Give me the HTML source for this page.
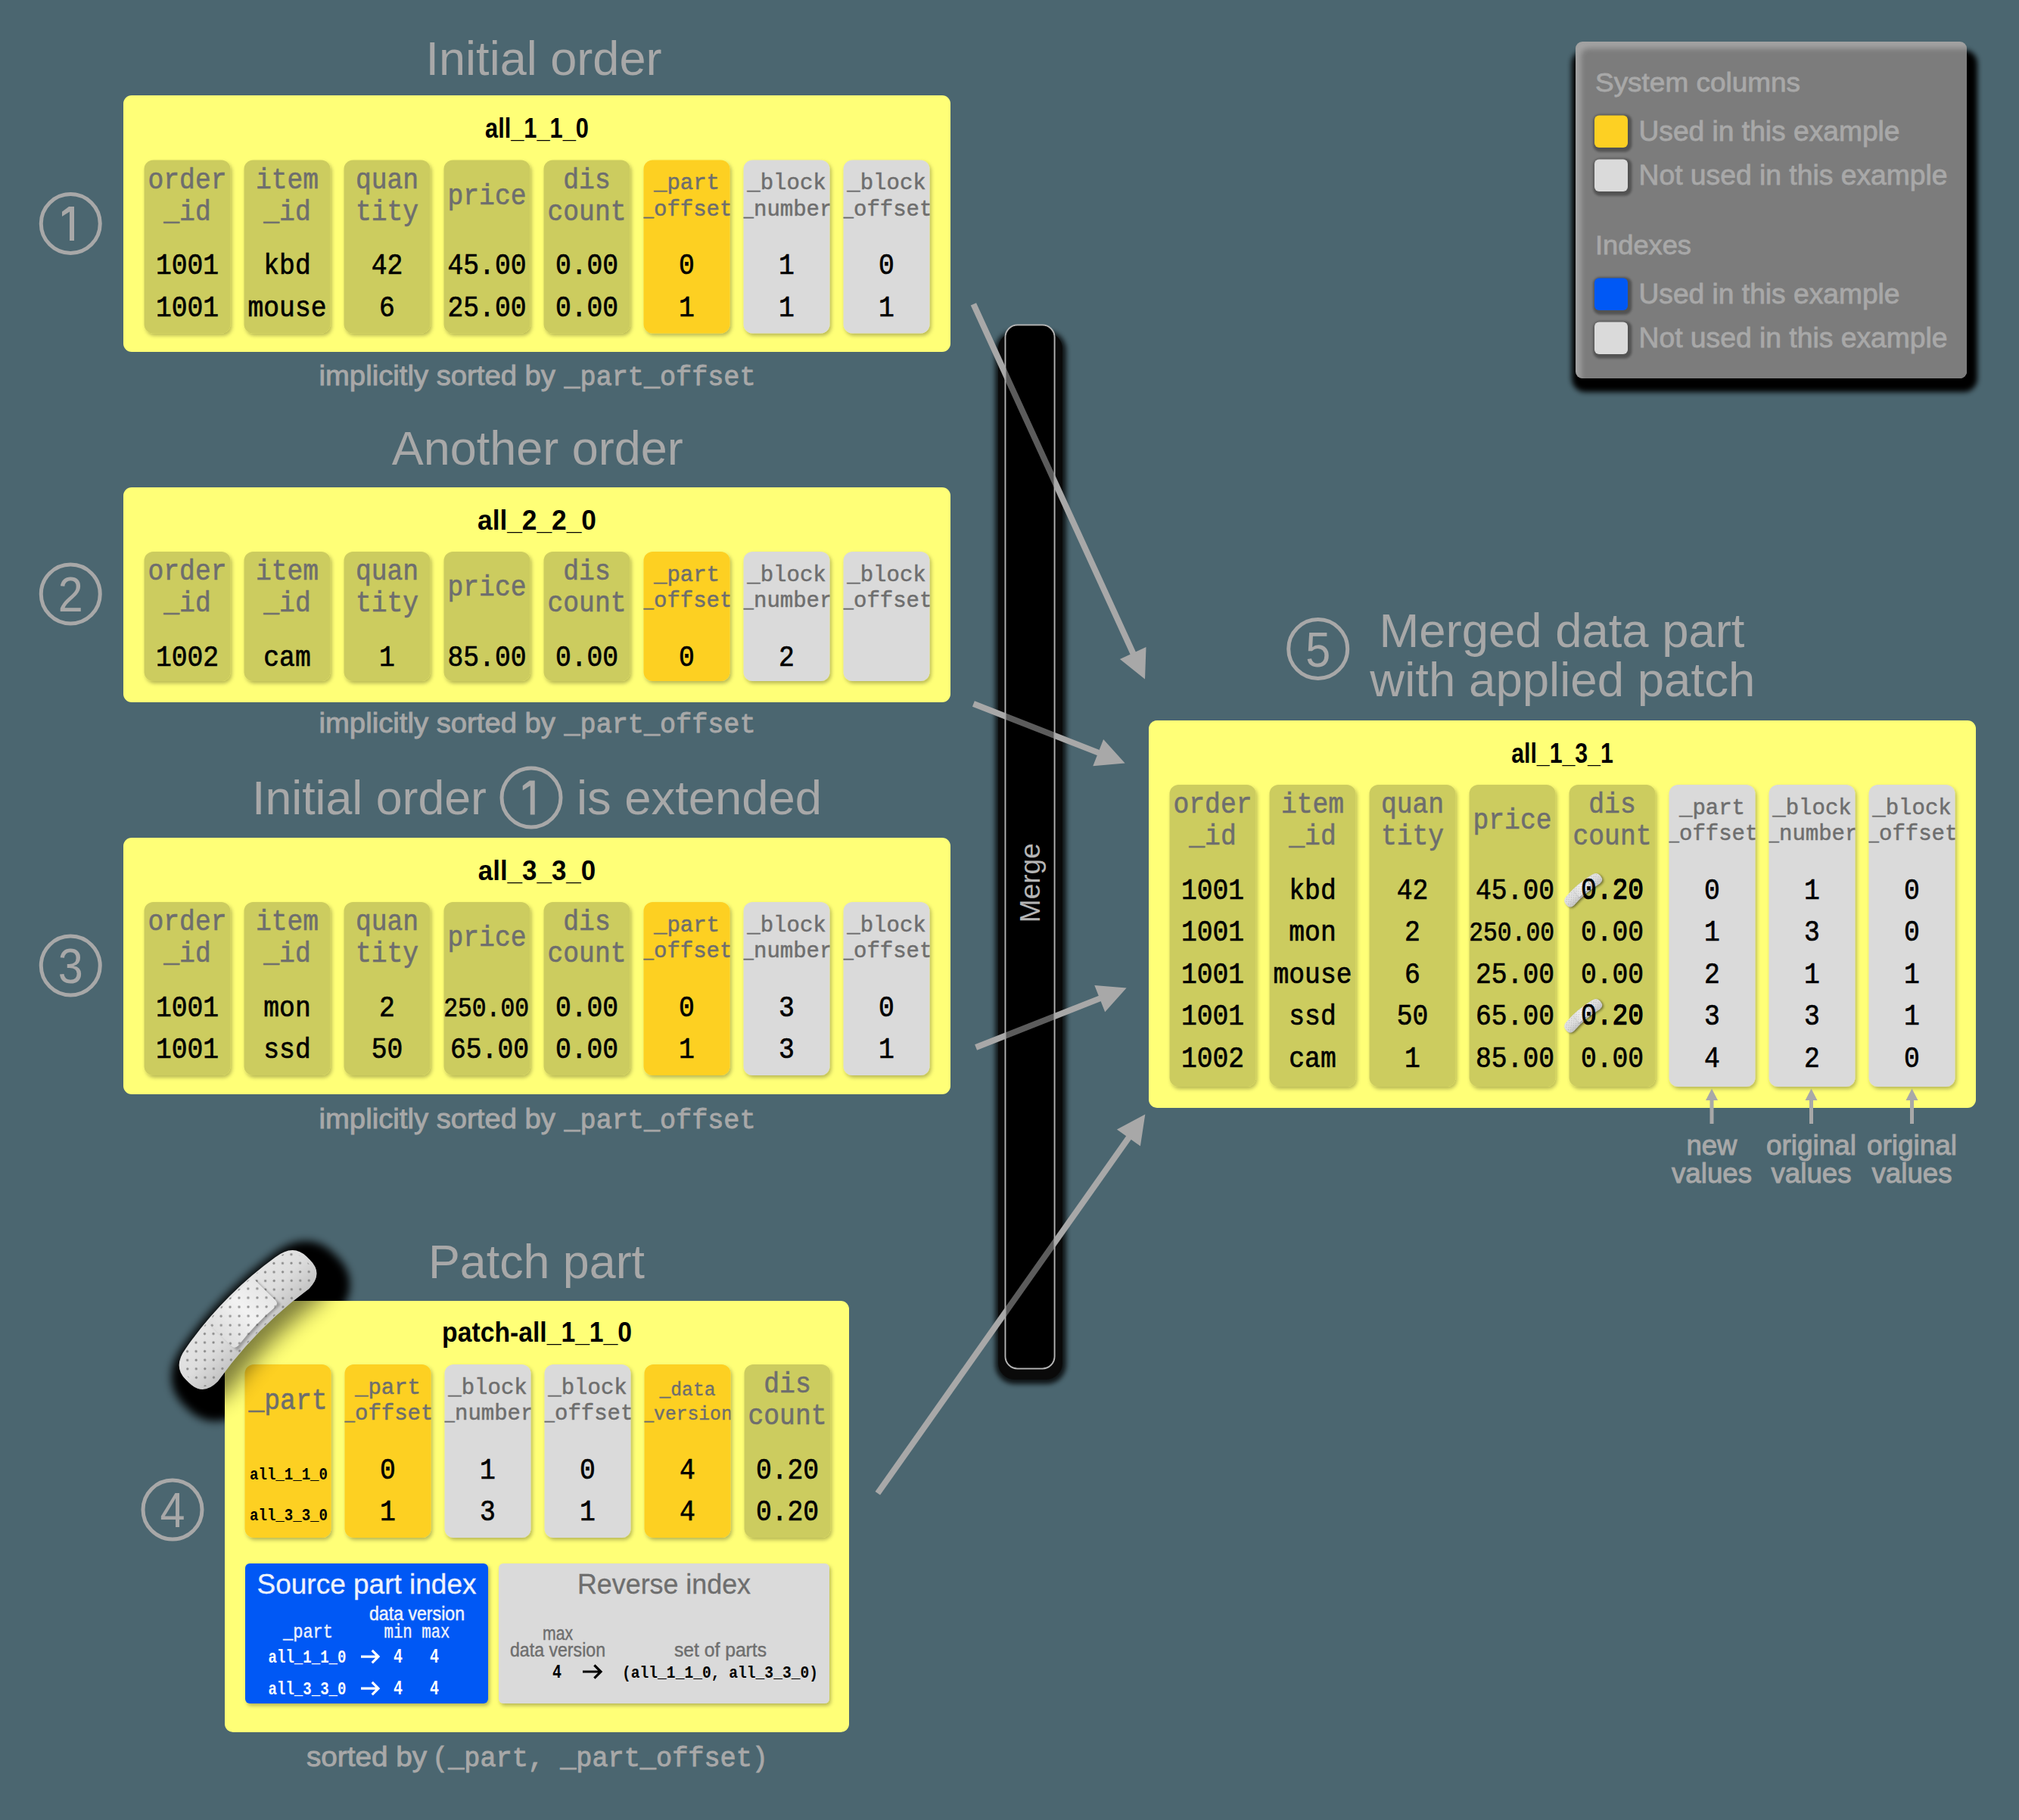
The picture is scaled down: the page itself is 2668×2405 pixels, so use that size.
<!DOCTYPE html><html><head><meta charset="utf-8"><style>
html,body{margin:0;padding:0;background:#4b6670;width:2668px;height:2405px}
svg{display:block}
</style></head><body>
<svg width="2668" height="2405" viewBox="0 0 2668 2405">
<defs>
<filter id="colsh" x="-20%" y="-20%" width="140%" height="140%"><feDropShadow dx="2" dy="3" stdDeviation="2.5" flood-color="#000" flood-opacity="0.28"/></filter>
<filter id="legsh" x="-20%" y="-20%" width="140%" height="140%"><feDropShadow dx="10" dy="13" stdDeviation="8" flood-color="#000" flood-opacity="1"/></filter>
<filter id="swsh" x="-40%" y="-40%" width="180%" height="180%"><feDropShadow dx="1" dy="2" stdDeviation="2.5" flood-color="#000" flood-opacity="0.55"/></filter>
<filter id="barsh" x="-50%" y="-10%" width="200%" height="120%"><feGaussianBlur stdDeviation="3"/></filter>
<filter id="bl9" x="-50%" y="-50%" width="200%" height="200%"><feGaussianBlur stdDeviation="9"/></filter>
<filter id="bl20" x="-80%" y="-80%" width="260%" height="260%"><feGaussianBlur stdDeviation="22"/></filter>
<filter id="bl4" x="-50%" y="-50%" width="200%" height="200%"><feGaussianBlur stdDeviation="4"/></filter>
<filter id="bl3" x="-50%" y="-50%" width="200%" height="200%"><feGaussianBlur stdDeviation="3.5"/></filter>
<filter id="bl6" filterUnits="userSpaceOnUse" x="-250" y="-200" width="500" height="400"><feGaussianBlur stdDeviation="6"/></filter>
<filter id="bl14" filterUnits="userSpaceOnUse" x="-250" y="-200" width="500" height="400"><feGaussianBlur stdDeviation="14"/></filter>
<filter id="bl2" x="-50%" y="-50%" width="200%" height="200%"><feGaussianBlur stdDeviation="1.5"/></filter>
<filter id="smsh" x="-50%" y="-50%" width="200%" height="200%"><feDropShadow dx="1.5" dy="2" stdDeviation="1.5" flood-color="#000" flood-opacity="0.45"/></filter>
<clipPath id="legclip"><rect x="2082" y="55" width="517" height="445" rx="9"/></clipPath>
<clipPath id="patchclip"><rect x="297" y="1719" width="825" height="570" rx="11"/></clipPath>
<linearGradient id="bandg" gradientUnits="userSpaceOnUse" x1="0" y1="-30" x2="0" y2="36">
<stop offset="0" stop-color="#e4e4e4"/><stop offset="0.5" stop-color="#dddddd"/><stop offset="1" stop-color="#c4c4c4"/></linearGradient>
<linearGradient id="padg" gradientUnits="userSpaceOnUse" x1="-40" y1="0" x2="44" y2="0">
<stop offset="0" stop-color="#dedede"/><stop offset="0.55" stop-color="#f2f2f2"/><stop offset="1" stop-color="#e6e6e6"/></linearGradient>
<pattern id="dots" x="0" y="0" width="17" height="17" patternUnits="userSpaceOnUse"><circle cx="4" cy="4" r="1.7" fill="#8a8a8a"/><circle cx="12.5" cy="12.5" r="1.7" fill="#8a8a8a"/></pattern>
<pattern id="dotsS" x="0" y="0" width="5" height="5" patternUnits="userSpaceOnUse"><circle cx="1.2" cy="1.2" r="0.7" fill="#9a9a9a"/><circle cx="3.7" cy="3.7" r="0.7" fill="#9a9a9a"/></pattern>
</defs>
<rect width="2668" height="2405" fill="#4b6670"/>

<text x="718.5" y="98.7" font-family="'Liberation Sans', sans-serif" font-size="63" fill="#a8a8a8" text-anchor="middle" font-weight="normal" textLength="312.0" lengthAdjust="spacingAndGlyphs"  xml:space="preserve">Initial order</text>
<text x="710.3" y="614" font-family="'Liberation Sans', sans-serif" font-size="63" fill="#a8a8a8" text-anchor="middle" font-weight="normal" textLength="385.0" lengthAdjust="spacingAndGlyphs"  xml:space="preserve">Another order</text>
<rect x="163" y="126" width="1093" height="339" rx="11" fill="#ffff77"/>
<text x="709.5" y="181.5" font-family="'Liberation Sans', sans-serif" font-size="37" fill="#000" text-anchor="middle" font-weight="bold" textLength="137.0" lengthAdjust="spacingAndGlyphs"  xml:space="preserve">all_1_1_0</text>
<rect x="190.5" y="211.5" width="114" height="229.0" rx="12" fill="#cccc5e" filter="url(#colsh)"/>
<clipPath id="cc1"><rect x="190.5" y="211.5" width="114" height="229.0" rx="12"/></clipPath><g clip-path="url(#cc1)">
<text x="247.5" y="248.5" font-family="'Liberation Mono', monospace" font-size="38" fill="#6e6e6e" text-anchor="middle" font-weight="normal" textLength="104.0" lengthAdjust="spacingAndGlyphs" stroke="#6e6e6e" stroke-width="0.6"  xml:space="preserve">order</text>
<text x="247.5" y="290.5" font-family="'Liberation Mono', monospace" font-size="38" fill="#6e6e6e" text-anchor="middle" font-weight="normal" textLength="62.4" lengthAdjust="spacingAndGlyphs" stroke="#6e6e6e" stroke-width="0.6"  xml:space="preserve">_id</text>
<text x="247.5" y="362.0" font-family="'Liberation Mono', monospace" font-size="39" fill="#000" text-anchor="middle" font-weight="normal" textLength="83.2" lengthAdjust="spacingAndGlyphs" stroke="#000" stroke-width="0.7"  xml:space="preserve">1001</text>
<text x="247.5" y="417.5" font-family="'Liberation Mono', monospace" font-size="39" fill="#000" text-anchor="middle" font-weight="normal" textLength="83.2" lengthAdjust="spacingAndGlyphs" stroke="#000" stroke-width="0.7"  xml:space="preserve">1001</text>
</g>
<rect x="322.5" y="211.5" width="114" height="229.0" rx="12" fill="#cccc5e" filter="url(#colsh)"/>
<clipPath id="cc2"><rect x="322.5" y="211.5" width="114" height="229.0" rx="12"/></clipPath><g clip-path="url(#cc2)">
<text x="379.5" y="248.5" font-family="'Liberation Mono', monospace" font-size="38" fill="#6e6e6e" text-anchor="middle" font-weight="normal" textLength="83.2" lengthAdjust="spacingAndGlyphs" stroke="#6e6e6e" stroke-width="0.6"  xml:space="preserve">item</text>
<text x="379.5" y="290.5" font-family="'Liberation Mono', monospace" font-size="38" fill="#6e6e6e" text-anchor="middle" font-weight="normal" textLength="62.4" lengthAdjust="spacingAndGlyphs" stroke="#6e6e6e" stroke-width="0.6"  xml:space="preserve">_id</text>
<text x="379.5" y="362.0" font-family="'Liberation Mono', monospace" font-size="39" fill="#000" text-anchor="middle" font-weight="normal" textLength="62.4" lengthAdjust="spacingAndGlyphs" stroke="#000" stroke-width="0.7"  xml:space="preserve">kbd</text>
<text x="379.5" y="417.5" font-family="'Liberation Mono', monospace" font-size="39" fill="#000" text-anchor="middle" font-weight="normal" textLength="104.0" lengthAdjust="spacingAndGlyphs" stroke="#000" stroke-width="0.7"  xml:space="preserve">mouse</text>
</g>
<rect x="454.5" y="211.5" width="114" height="229.0" rx="12" fill="#cccc5e" filter="url(#colsh)"/>
<clipPath id="cc3"><rect x="454.5" y="211.5" width="114" height="229.0" rx="12"/></clipPath><g clip-path="url(#cc3)">
<text x="511.5" y="248.5" font-family="'Liberation Mono', monospace" font-size="38" fill="#6e6e6e" text-anchor="middle" font-weight="normal" textLength="83.2" lengthAdjust="spacingAndGlyphs" stroke="#6e6e6e" stroke-width="0.6"  xml:space="preserve">quan</text>
<text x="511.5" y="290.5" font-family="'Liberation Mono', monospace" font-size="38" fill="#6e6e6e" text-anchor="middle" font-weight="normal" textLength="83.2" lengthAdjust="spacingAndGlyphs" stroke="#6e6e6e" stroke-width="0.6"  xml:space="preserve">tity</text>
<text x="511.5" y="362.0" font-family="'Liberation Mono', monospace" font-size="39" fill="#000" text-anchor="middle" font-weight="normal" textLength="41.6" lengthAdjust="spacingAndGlyphs" stroke="#000" stroke-width="0.7"  xml:space="preserve">42</text>
<text x="511.5" y="417.5" font-family="'Liberation Mono', monospace" font-size="39" fill="#000" text-anchor="middle" font-weight="normal" textLength="20.8" lengthAdjust="spacingAndGlyphs" stroke="#000" stroke-width="0.7"  xml:space="preserve">6</text>
</g>
<rect x="586.5" y="211.5" width="114" height="229.0" rx="12" fill="#cccc5e" filter="url(#colsh)"/>
<clipPath id="cc4"><rect x="586.5" y="211.5" width="114" height="229.0" rx="12"/></clipPath><g clip-path="url(#cc4)">
<text x="643.5" y="269.5" font-family="'Liberation Mono', monospace" font-size="38" fill="#6e6e6e" text-anchor="middle" font-weight="normal" textLength="104.0" lengthAdjust="spacingAndGlyphs" stroke="#6e6e6e" stroke-width="0.6"  xml:space="preserve">price</text>
<text x="643.5" y="362.0" font-family="'Liberation Mono', monospace" font-size="39" fill="#000" text-anchor="middle" font-weight="normal" textLength="104.0" lengthAdjust="spacingAndGlyphs" stroke="#000" stroke-width="0.7"  xml:space="preserve">45.00</text>
<text x="643.5" y="417.5" font-family="'Liberation Mono', monospace" font-size="39" fill="#000" text-anchor="middle" font-weight="normal" textLength="104.0" lengthAdjust="spacingAndGlyphs" stroke="#000" stroke-width="0.7"  xml:space="preserve">25.00</text>
</g>
<rect x="718.5" y="211.5" width="114" height="229.0" rx="12" fill="#cccc5e" filter="url(#colsh)"/>
<clipPath id="cc5"><rect x="718.5" y="211.5" width="114" height="229.0" rx="12"/></clipPath><g clip-path="url(#cc5)">
<text x="775.5" y="248.5" font-family="'Liberation Mono', monospace" font-size="38" fill="#6e6e6e" text-anchor="middle" font-weight="normal" textLength="62.4" lengthAdjust="spacingAndGlyphs" stroke="#6e6e6e" stroke-width="0.6"  xml:space="preserve">dis</text>
<text x="775.5" y="290.5" font-family="'Liberation Mono', monospace" font-size="38" fill="#6e6e6e" text-anchor="middle" font-weight="normal" textLength="104.0" lengthAdjust="spacingAndGlyphs" stroke="#6e6e6e" stroke-width="0.6"  xml:space="preserve">count</text>
<text x="775.5" y="362.0" font-family="'Liberation Mono', monospace" font-size="39" fill="#000" text-anchor="middle" font-weight="normal" textLength="83.2" lengthAdjust="spacingAndGlyphs" stroke="#000" stroke-width="0.7"  xml:space="preserve">0.00</text>
<text x="775.5" y="417.5" font-family="'Liberation Mono', monospace" font-size="39" fill="#000" text-anchor="middle" font-weight="normal" textLength="83.2" lengthAdjust="spacingAndGlyphs" stroke="#000" stroke-width="0.7"  xml:space="preserve">0.00</text>
</g>
<rect x="850.5" y="211.5" width="114" height="229.0" rx="12" fill="#fdd023" filter="url(#colsh)"/>
<clipPath id="cc6"><rect x="850.5" y="211.5" width="114" height="229.0" rx="12"/></clipPath><g clip-path="url(#cc6)">
<text x="907.5" y="250.0" font-family="'Liberation Mono', monospace" font-size="30" fill="#6e6e6e" text-anchor="middle" font-weight="normal" textLength="87.0" lengthAdjust="spacingAndGlyphs" stroke="#6e6e6e" stroke-width="0.5"  xml:space="preserve">_part</text>
<text x="907.5" y="284.5" font-family="'Liberation Mono', monospace" font-size="30" fill="#6e6e6e" text-anchor="middle" font-weight="normal" textLength="121.8" lengthAdjust="spacingAndGlyphs" stroke="#6e6e6e" stroke-width="0.5"  xml:space="preserve">_offset</text>
<text x="907.5" y="362.0" font-family="'Liberation Mono', monospace" font-size="39" fill="#000" text-anchor="middle" font-weight="normal" textLength="20.8" lengthAdjust="spacingAndGlyphs" stroke="#000" stroke-width="0.7"  xml:space="preserve">0</text>
<text x="907.5" y="417.5" font-family="'Liberation Mono', monospace" font-size="39" fill="#000" text-anchor="middle" font-weight="normal" textLength="20.8" lengthAdjust="spacingAndGlyphs" stroke="#000" stroke-width="0.7"  xml:space="preserve">1</text>
</g>
<rect x="982.5" y="211.5" width="114" height="229.0" rx="12" fill="#dadada" filter="url(#colsh)"/>
<clipPath id="cc7"><rect x="982.5" y="211.5" width="114" height="229.0" rx="12"/></clipPath><g clip-path="url(#cc7)">
<text x="1039.5" y="250.0" font-family="'Liberation Mono', monospace" font-size="30" fill="#6e6e6e" text-anchor="middle" font-weight="normal" textLength="104.4" lengthAdjust="spacingAndGlyphs" stroke="#6e6e6e" stroke-width="0.5"  xml:space="preserve">_block</text>
<text x="1039.5" y="284.5" font-family="'Liberation Mono', monospace" font-size="30" fill="#6e6e6e" text-anchor="middle" font-weight="normal" textLength="121.8" lengthAdjust="spacingAndGlyphs" stroke="#6e6e6e" stroke-width="0.5"  xml:space="preserve">_number</text>
<text x="1039.5" y="362.0" font-family="'Liberation Mono', monospace" font-size="39" fill="#000" text-anchor="middle" font-weight="normal" textLength="20.8" lengthAdjust="spacingAndGlyphs" stroke="#000" stroke-width="0.7"  xml:space="preserve">1</text>
<text x="1039.5" y="417.5" font-family="'Liberation Mono', monospace" font-size="39" fill="#000" text-anchor="middle" font-weight="normal" textLength="20.8" lengthAdjust="spacingAndGlyphs" stroke="#000" stroke-width="0.7"  xml:space="preserve">1</text>
</g>
<rect x="1114.5" y="211.5" width="114" height="229.0" rx="12" fill="#dadada" filter="url(#colsh)"/>
<clipPath id="cc8"><rect x="1114.5" y="211.5" width="114" height="229.0" rx="12"/></clipPath><g clip-path="url(#cc8)">
<text x="1171.5" y="250.0" font-family="'Liberation Mono', monospace" font-size="30" fill="#6e6e6e" text-anchor="middle" font-weight="normal" textLength="104.4" lengthAdjust="spacingAndGlyphs" stroke="#6e6e6e" stroke-width="0.5"  xml:space="preserve">_block</text>
<text x="1171.5" y="284.5" font-family="'Liberation Mono', monospace" font-size="30" fill="#6e6e6e" text-anchor="middle" font-weight="normal" textLength="121.8" lengthAdjust="spacingAndGlyphs" stroke="#6e6e6e" stroke-width="0.5"  xml:space="preserve">_offset</text>
<text x="1171.5" y="362.0" font-family="'Liberation Mono', monospace" font-size="39" fill="#000" text-anchor="middle" font-weight="normal" textLength="20.8" lengthAdjust="spacingAndGlyphs" stroke="#000" stroke-width="0.7"  xml:space="preserve">0</text>
<text x="1171.5" y="417.5" font-family="'Liberation Mono', monospace" font-size="39" fill="#000" text-anchor="middle" font-weight="normal" textLength="20.8" lengthAdjust="spacingAndGlyphs" stroke="#000" stroke-width="0.7"  xml:space="preserve">1</text>
</g>
<text x="421.5" y="508.6" font-family="'Liberation Sans', sans-serif" font-size="36" fill="#a8a8a8" text-anchor="start" font-weight="normal" textLength="312.5" lengthAdjust="spacingAndGlyphs" stroke="#a8a8a8" stroke-width="0.9"  xml:space="preserve">implicitly sorted by</text>
<text x="745.5" y="508.6" font-family="'Liberation Mono', monospace" font-size="36" fill="#a8a8a8" text-anchor="start" font-weight="normal" textLength="253.0" lengthAdjust="spacingAndGlyphs" stroke="#a8a8a8" stroke-width="0.9"  xml:space="preserve">_part_offset</text>
<rect x="163" y="644" width="1093" height="284" rx="11" fill="#ffff77"/>
<text x="709.5" y="700" font-family="'Liberation Sans', sans-serif" font-size="37" fill="#000" text-anchor="middle" font-weight="bold" textLength="157.0" lengthAdjust="spacingAndGlyphs"  xml:space="preserve">all_2_2_0</text>
<rect x="190.5" y="729" width="114" height="171" rx="12" fill="#cccc5e" filter="url(#colsh)"/>
<clipPath id="cc9"><rect x="190.5" y="729" width="114" height="171" rx="12"/></clipPath><g clip-path="url(#cc9)">
<text x="247.5" y="766" font-family="'Liberation Mono', monospace" font-size="38" fill="#6e6e6e" text-anchor="middle" font-weight="normal" textLength="104.0" lengthAdjust="spacingAndGlyphs" stroke="#6e6e6e" stroke-width="0.6"  xml:space="preserve">order</text>
<text x="247.5" y="808" font-family="'Liberation Mono', monospace" font-size="38" fill="#6e6e6e" text-anchor="middle" font-weight="normal" textLength="62.4" lengthAdjust="spacingAndGlyphs" stroke="#6e6e6e" stroke-width="0.6"  xml:space="preserve">_id</text>
<text x="247.5" y="879.5" font-family="'Liberation Mono', monospace" font-size="39" fill="#000" text-anchor="middle" font-weight="normal" textLength="83.2" lengthAdjust="spacingAndGlyphs" stroke="#000" stroke-width="0.7"  xml:space="preserve">1002</text>
</g>
<rect x="322.5" y="729" width="114" height="171" rx="12" fill="#cccc5e" filter="url(#colsh)"/>
<clipPath id="cc10"><rect x="322.5" y="729" width="114" height="171" rx="12"/></clipPath><g clip-path="url(#cc10)">
<text x="379.5" y="766" font-family="'Liberation Mono', monospace" font-size="38" fill="#6e6e6e" text-anchor="middle" font-weight="normal" textLength="83.2" lengthAdjust="spacingAndGlyphs" stroke="#6e6e6e" stroke-width="0.6"  xml:space="preserve">item</text>
<text x="379.5" y="808" font-family="'Liberation Mono', monospace" font-size="38" fill="#6e6e6e" text-anchor="middle" font-weight="normal" textLength="62.4" lengthAdjust="spacingAndGlyphs" stroke="#6e6e6e" stroke-width="0.6"  xml:space="preserve">_id</text>
<text x="379.5" y="879.5" font-family="'Liberation Mono', monospace" font-size="39" fill="#000" text-anchor="middle" font-weight="normal" textLength="62.4" lengthAdjust="spacingAndGlyphs" stroke="#000" stroke-width="0.7"  xml:space="preserve">cam</text>
</g>
<rect x="454.5" y="729" width="114" height="171" rx="12" fill="#cccc5e" filter="url(#colsh)"/>
<clipPath id="cc11"><rect x="454.5" y="729" width="114" height="171" rx="12"/></clipPath><g clip-path="url(#cc11)">
<text x="511.5" y="766" font-family="'Liberation Mono', monospace" font-size="38" fill="#6e6e6e" text-anchor="middle" font-weight="normal" textLength="83.2" lengthAdjust="spacingAndGlyphs" stroke="#6e6e6e" stroke-width="0.6"  xml:space="preserve">quan</text>
<text x="511.5" y="808" font-family="'Liberation Mono', monospace" font-size="38" fill="#6e6e6e" text-anchor="middle" font-weight="normal" textLength="83.2" lengthAdjust="spacingAndGlyphs" stroke="#6e6e6e" stroke-width="0.6"  xml:space="preserve">tity</text>
<text x="511.5" y="879.5" font-family="'Liberation Mono', monospace" font-size="39" fill="#000" text-anchor="middle" font-weight="normal" textLength="20.8" lengthAdjust="spacingAndGlyphs" stroke="#000" stroke-width="0.7"  xml:space="preserve">1</text>
</g>
<rect x="586.5" y="729" width="114" height="171" rx="12" fill="#cccc5e" filter="url(#colsh)"/>
<clipPath id="cc12"><rect x="586.5" y="729" width="114" height="171" rx="12"/></clipPath><g clip-path="url(#cc12)">
<text x="643.5" y="787" font-family="'Liberation Mono', monospace" font-size="38" fill="#6e6e6e" text-anchor="middle" font-weight="normal" textLength="104.0" lengthAdjust="spacingAndGlyphs" stroke="#6e6e6e" stroke-width="0.6"  xml:space="preserve">price</text>
<text x="643.5" y="879.5" font-family="'Liberation Mono', monospace" font-size="39" fill="#000" text-anchor="middle" font-weight="normal" textLength="104.0" lengthAdjust="spacingAndGlyphs" stroke="#000" stroke-width="0.7"  xml:space="preserve">85.00</text>
</g>
<rect x="718.5" y="729" width="114" height="171" rx="12" fill="#cccc5e" filter="url(#colsh)"/>
<clipPath id="cc13"><rect x="718.5" y="729" width="114" height="171" rx="12"/></clipPath><g clip-path="url(#cc13)">
<text x="775.5" y="766" font-family="'Liberation Mono', monospace" font-size="38" fill="#6e6e6e" text-anchor="middle" font-weight="normal" textLength="62.4" lengthAdjust="spacingAndGlyphs" stroke="#6e6e6e" stroke-width="0.6"  xml:space="preserve">dis</text>
<text x="775.5" y="808" font-family="'Liberation Mono', monospace" font-size="38" fill="#6e6e6e" text-anchor="middle" font-weight="normal" textLength="104.0" lengthAdjust="spacingAndGlyphs" stroke="#6e6e6e" stroke-width="0.6"  xml:space="preserve">count</text>
<text x="775.5" y="879.5" font-family="'Liberation Mono', monospace" font-size="39" fill="#000" text-anchor="middle" font-weight="normal" textLength="83.2" lengthAdjust="spacingAndGlyphs" stroke="#000" stroke-width="0.7"  xml:space="preserve">0.00</text>
</g>
<rect x="850.5" y="729" width="114" height="171" rx="12" fill="#fdd023" filter="url(#colsh)"/>
<clipPath id="cc14"><rect x="850.5" y="729" width="114" height="171" rx="12"/></clipPath><g clip-path="url(#cc14)">
<text x="907.5" y="767.5" font-family="'Liberation Mono', monospace" font-size="30" fill="#6e6e6e" text-anchor="middle" font-weight="normal" textLength="87.0" lengthAdjust="spacingAndGlyphs" stroke="#6e6e6e" stroke-width="0.5"  xml:space="preserve">_part</text>
<text x="907.5" y="802" font-family="'Liberation Mono', monospace" font-size="30" fill="#6e6e6e" text-anchor="middle" font-weight="normal" textLength="121.8" lengthAdjust="spacingAndGlyphs" stroke="#6e6e6e" stroke-width="0.5"  xml:space="preserve">_offset</text>
<text x="907.5" y="879.5" font-family="'Liberation Mono', monospace" font-size="39" fill="#000" text-anchor="middle" font-weight="normal" textLength="20.8" lengthAdjust="spacingAndGlyphs" stroke="#000" stroke-width="0.7"  xml:space="preserve">0</text>
</g>
<rect x="982.5" y="729" width="114" height="171" rx="12" fill="#dadada" filter="url(#colsh)"/>
<clipPath id="cc15"><rect x="982.5" y="729" width="114" height="171" rx="12"/></clipPath><g clip-path="url(#cc15)">
<text x="1039.5" y="767.5" font-family="'Liberation Mono', monospace" font-size="30" fill="#6e6e6e" text-anchor="middle" font-weight="normal" textLength="104.4" lengthAdjust="spacingAndGlyphs" stroke="#6e6e6e" stroke-width="0.5"  xml:space="preserve">_block</text>
<text x="1039.5" y="802" font-family="'Liberation Mono', monospace" font-size="30" fill="#6e6e6e" text-anchor="middle" font-weight="normal" textLength="121.8" lengthAdjust="spacingAndGlyphs" stroke="#6e6e6e" stroke-width="0.5"  xml:space="preserve">_number</text>
<text x="1039.5" y="879.5" font-family="'Liberation Mono', monospace" font-size="39" fill="#000" text-anchor="middle" font-weight="normal" textLength="20.8" lengthAdjust="spacingAndGlyphs" stroke="#000" stroke-width="0.7"  xml:space="preserve">2</text>
</g>
<rect x="1114.5" y="729" width="114" height="171" rx="12" fill="#dadada" filter="url(#colsh)"/>
<clipPath id="cc16"><rect x="1114.5" y="729" width="114" height="171" rx="12"/></clipPath><g clip-path="url(#cc16)">
<text x="1171.5" y="767.5" font-family="'Liberation Mono', monospace" font-size="30" fill="#6e6e6e" text-anchor="middle" font-weight="normal" textLength="104.4" lengthAdjust="spacingAndGlyphs" stroke="#6e6e6e" stroke-width="0.5"  xml:space="preserve">_block</text>
<text x="1171.5" y="802" font-family="'Liberation Mono', monospace" font-size="30" fill="#6e6e6e" text-anchor="middle" font-weight="normal" textLength="121.8" lengthAdjust="spacingAndGlyphs" stroke="#6e6e6e" stroke-width="0.5"  xml:space="preserve">_offset</text>
</g>
<text x="421.5" y="967.6" font-family="'Liberation Sans', sans-serif" font-size="36" fill="#a8a8a8" text-anchor="start" font-weight="normal" textLength="312.5" lengthAdjust="spacingAndGlyphs" stroke="#a8a8a8" stroke-width="0.9"  xml:space="preserve">implicitly sorted by</text>
<text x="745.5" y="967.6" font-family="'Liberation Mono', monospace" font-size="36" fill="#a8a8a8" text-anchor="start" font-weight="normal" textLength="253.0" lengthAdjust="spacingAndGlyphs" stroke="#a8a8a8" stroke-width="0.9"  xml:space="preserve">_part_offset</text>
<rect x="163" y="1107" width="1093" height="339" rx="11" fill="#ffff77"/>
<text x="709.5" y="1162.5" font-family="'Liberation Sans', sans-serif" font-size="37" fill="#000" text-anchor="middle" font-weight="bold" textLength="155.5" lengthAdjust="spacingAndGlyphs"  xml:space="preserve">all_3_3_0</text>
<rect x="190.5" y="1192" width="114" height="229" rx="12" fill="#cccc5e" filter="url(#colsh)"/>
<clipPath id="cc17"><rect x="190.5" y="1192" width="114" height="229" rx="12"/></clipPath><g clip-path="url(#cc17)">
<text x="247.5" y="1229" font-family="'Liberation Mono', monospace" font-size="38" fill="#6e6e6e" text-anchor="middle" font-weight="normal" textLength="104.0" lengthAdjust="spacingAndGlyphs" stroke="#6e6e6e" stroke-width="0.6"  xml:space="preserve">order</text>
<text x="247.5" y="1271" font-family="'Liberation Mono', monospace" font-size="38" fill="#6e6e6e" text-anchor="middle" font-weight="normal" textLength="62.4" lengthAdjust="spacingAndGlyphs" stroke="#6e6e6e" stroke-width="0.6"  xml:space="preserve">_id</text>
<text x="247.5" y="1342.5" font-family="'Liberation Mono', monospace" font-size="39" fill="#000" text-anchor="middle" font-weight="normal" textLength="83.2" lengthAdjust="spacingAndGlyphs" stroke="#000" stroke-width="0.7"  xml:space="preserve">1001</text>
<text x="247.5" y="1398.0" font-family="'Liberation Mono', monospace" font-size="39" fill="#000" text-anchor="middle" font-weight="normal" textLength="83.2" lengthAdjust="spacingAndGlyphs" stroke="#000" stroke-width="0.7"  xml:space="preserve">1001</text>
</g>
<rect x="322.5" y="1192" width="114" height="229" rx="12" fill="#cccc5e" filter="url(#colsh)"/>
<clipPath id="cc18"><rect x="322.5" y="1192" width="114" height="229" rx="12"/></clipPath><g clip-path="url(#cc18)">
<text x="379.5" y="1229" font-family="'Liberation Mono', monospace" font-size="38" fill="#6e6e6e" text-anchor="middle" font-weight="normal" textLength="83.2" lengthAdjust="spacingAndGlyphs" stroke="#6e6e6e" stroke-width="0.6"  xml:space="preserve">item</text>
<text x="379.5" y="1271" font-family="'Liberation Mono', monospace" font-size="38" fill="#6e6e6e" text-anchor="middle" font-weight="normal" textLength="62.4" lengthAdjust="spacingAndGlyphs" stroke="#6e6e6e" stroke-width="0.6"  xml:space="preserve">_id</text>
<text x="379.5" y="1342.5" font-family="'Liberation Mono', monospace" font-size="39" fill="#000" text-anchor="middle" font-weight="normal" textLength="62.4" lengthAdjust="spacingAndGlyphs" stroke="#000" stroke-width="0.7"  xml:space="preserve">mon</text>
<text x="379.5" y="1398.0" font-family="'Liberation Mono', monospace" font-size="39" fill="#000" text-anchor="middle" font-weight="normal" textLength="62.4" lengthAdjust="spacingAndGlyphs" stroke="#000" stroke-width="0.7"  xml:space="preserve">ssd</text>
</g>
<rect x="454.5" y="1192" width="114" height="229" rx="12" fill="#cccc5e" filter="url(#colsh)"/>
<clipPath id="cc19"><rect x="454.5" y="1192" width="114" height="229" rx="12"/></clipPath><g clip-path="url(#cc19)">
<text x="511.5" y="1229" font-family="'Liberation Mono', monospace" font-size="38" fill="#6e6e6e" text-anchor="middle" font-weight="normal" textLength="83.2" lengthAdjust="spacingAndGlyphs" stroke="#6e6e6e" stroke-width="0.6"  xml:space="preserve">quan</text>
<text x="511.5" y="1271" font-family="'Liberation Mono', monospace" font-size="38" fill="#6e6e6e" text-anchor="middle" font-weight="normal" textLength="83.2" lengthAdjust="spacingAndGlyphs" stroke="#6e6e6e" stroke-width="0.6"  xml:space="preserve">tity</text>
<text x="511.5" y="1342.5" font-family="'Liberation Mono', monospace" font-size="39" fill="#000" text-anchor="middle" font-weight="normal" textLength="20.8" lengthAdjust="spacingAndGlyphs" stroke="#000" stroke-width="0.7"  xml:space="preserve">2</text>
<text x="511.5" y="1398.0" font-family="'Liberation Mono', monospace" font-size="39" fill="#000" text-anchor="middle" font-weight="normal" textLength="41.6" lengthAdjust="spacingAndGlyphs" stroke="#000" stroke-width="0.7"  xml:space="preserve">50</text>
</g>
<rect x="586.5" y="1192" width="114" height="229" rx="12" fill="#cccc5e" filter="url(#colsh)"/>
<clipPath id="cc20"><rect x="586.5" y="1192" width="114" height="229" rx="12"/></clipPath><g clip-path="url(#cc20)">
<text x="643.5" y="1250" font-family="'Liberation Mono', monospace" font-size="38" fill="#6e6e6e" text-anchor="middle" font-weight="normal" textLength="104.0" lengthAdjust="spacingAndGlyphs" stroke="#6e6e6e" stroke-width="0.6"  xml:space="preserve">price</text>
<text x="699.0" y="1342.5" font-family="'Liberation Mono', monospace" font-size="36" fill="#000" text-anchor="end" font-weight="normal" textLength="112.8" lengthAdjust="spacingAndGlyphs" stroke="#000" stroke-width="0.7"  xml:space="preserve">250.00</text>
<text x="699.0" y="1398.0" font-family="'Liberation Mono', monospace" font-size="39" fill="#000" text-anchor="end" font-weight="normal" textLength="104.0" lengthAdjust="spacingAndGlyphs" stroke="#000" stroke-width="0.7"  xml:space="preserve">65.00</text>
</g>
<rect x="718.5" y="1192" width="114" height="229" rx="12" fill="#cccc5e" filter="url(#colsh)"/>
<clipPath id="cc21"><rect x="718.5" y="1192" width="114" height="229" rx="12"/></clipPath><g clip-path="url(#cc21)">
<text x="775.5" y="1229" font-family="'Liberation Mono', monospace" font-size="38" fill="#6e6e6e" text-anchor="middle" font-weight="normal" textLength="62.4" lengthAdjust="spacingAndGlyphs" stroke="#6e6e6e" stroke-width="0.6"  xml:space="preserve">dis</text>
<text x="775.5" y="1271" font-family="'Liberation Mono', monospace" font-size="38" fill="#6e6e6e" text-anchor="middle" font-weight="normal" textLength="104.0" lengthAdjust="spacingAndGlyphs" stroke="#6e6e6e" stroke-width="0.6"  xml:space="preserve">count</text>
<text x="775.5" y="1342.5" font-family="'Liberation Mono', monospace" font-size="39" fill="#000" text-anchor="middle" font-weight="normal" textLength="83.2" lengthAdjust="spacingAndGlyphs" stroke="#000" stroke-width="0.7"  xml:space="preserve">0.00</text>
<text x="775.5" y="1398.0" font-family="'Liberation Mono', monospace" font-size="39" fill="#000" text-anchor="middle" font-weight="normal" textLength="83.2" lengthAdjust="spacingAndGlyphs" stroke="#000" stroke-width="0.7"  xml:space="preserve">0.00</text>
</g>
<rect x="850.5" y="1192" width="114" height="229" rx="12" fill="#fdd023" filter="url(#colsh)"/>
<clipPath id="cc22"><rect x="850.5" y="1192" width="114" height="229" rx="12"/></clipPath><g clip-path="url(#cc22)">
<text x="907.5" y="1230.5" font-family="'Liberation Mono', monospace" font-size="30" fill="#6e6e6e" text-anchor="middle" font-weight="normal" textLength="87.0" lengthAdjust="spacingAndGlyphs" stroke="#6e6e6e" stroke-width="0.5"  xml:space="preserve">_part</text>
<text x="907.5" y="1265" font-family="'Liberation Mono', monospace" font-size="30" fill="#6e6e6e" text-anchor="middle" font-weight="normal" textLength="121.8" lengthAdjust="spacingAndGlyphs" stroke="#6e6e6e" stroke-width="0.5"  xml:space="preserve">_offset</text>
<text x="907.5" y="1342.5" font-family="'Liberation Mono', monospace" font-size="39" fill="#000" text-anchor="middle" font-weight="normal" textLength="20.8" lengthAdjust="spacingAndGlyphs" stroke="#000" stroke-width="0.7"  xml:space="preserve">0</text>
<text x="907.5" y="1398.0" font-family="'Liberation Mono', monospace" font-size="39" fill="#000" text-anchor="middle" font-weight="normal" textLength="20.8" lengthAdjust="spacingAndGlyphs" stroke="#000" stroke-width="0.7"  xml:space="preserve">1</text>
</g>
<rect x="982.5" y="1192" width="114" height="229" rx="12" fill="#dadada" filter="url(#colsh)"/>
<clipPath id="cc23"><rect x="982.5" y="1192" width="114" height="229" rx="12"/></clipPath><g clip-path="url(#cc23)">
<text x="1039.5" y="1230.5" font-family="'Liberation Mono', monospace" font-size="30" fill="#6e6e6e" text-anchor="middle" font-weight="normal" textLength="104.4" lengthAdjust="spacingAndGlyphs" stroke="#6e6e6e" stroke-width="0.5"  xml:space="preserve">_block</text>
<text x="1039.5" y="1265" font-family="'Liberation Mono', monospace" font-size="30" fill="#6e6e6e" text-anchor="middle" font-weight="normal" textLength="121.8" lengthAdjust="spacingAndGlyphs" stroke="#6e6e6e" stroke-width="0.5"  xml:space="preserve">_number</text>
<text x="1039.5" y="1342.5" font-family="'Liberation Mono', monospace" font-size="39" fill="#000" text-anchor="middle" font-weight="normal" textLength="20.8" lengthAdjust="spacingAndGlyphs" stroke="#000" stroke-width="0.7"  xml:space="preserve">3</text>
<text x="1039.5" y="1398.0" font-family="'Liberation Mono', monospace" font-size="39" fill="#000" text-anchor="middle" font-weight="normal" textLength="20.8" lengthAdjust="spacingAndGlyphs" stroke="#000" stroke-width="0.7"  xml:space="preserve">3</text>
</g>
<rect x="1114.5" y="1192" width="114" height="229" rx="12" fill="#dadada" filter="url(#colsh)"/>
<clipPath id="cc24"><rect x="1114.5" y="1192" width="114" height="229" rx="12"/></clipPath><g clip-path="url(#cc24)">
<text x="1171.5" y="1230.5" font-family="'Liberation Mono', monospace" font-size="30" fill="#6e6e6e" text-anchor="middle" font-weight="normal" textLength="104.4" lengthAdjust="spacingAndGlyphs" stroke="#6e6e6e" stroke-width="0.5"  xml:space="preserve">_block</text>
<text x="1171.5" y="1265" font-family="'Liberation Mono', monospace" font-size="30" fill="#6e6e6e" text-anchor="middle" font-weight="normal" textLength="121.8" lengthAdjust="spacingAndGlyphs" stroke="#6e6e6e" stroke-width="0.5"  xml:space="preserve">_offset</text>
<text x="1171.5" y="1342.5" font-family="'Liberation Mono', monospace" font-size="39" fill="#000" text-anchor="middle" font-weight="normal" textLength="20.8" lengthAdjust="spacingAndGlyphs" stroke="#000" stroke-width="0.7"  xml:space="preserve">0</text>
<text x="1171.5" y="1398.0" font-family="'Liberation Mono', monospace" font-size="39" fill="#000" text-anchor="middle" font-weight="normal" textLength="20.8" lengthAdjust="spacingAndGlyphs" stroke="#000" stroke-width="0.7"  xml:space="preserve">1</text>
</g>
<text x="421.5" y="1490.6" font-family="'Liberation Sans', sans-serif" font-size="36" fill="#a8a8a8" text-anchor="start" font-weight="normal" textLength="312.5" lengthAdjust="spacingAndGlyphs" stroke="#a8a8a8" stroke-width="0.9"  xml:space="preserve">implicitly sorted by</text>
<text x="745.5" y="1490.6" font-family="'Liberation Mono', monospace" font-size="36" fill="#a8a8a8" text-anchor="start" font-weight="normal" textLength="253.0" lengthAdjust="spacingAndGlyphs" stroke="#a8a8a8" stroke-width="0.9"  xml:space="preserve">_part_offset</text>
<rect x="1518" y="952" width="1093" height="512" rx="11" fill="#ffff77"/>
<text x="2064.5" y="1007.5" font-family="'Liberation Sans', sans-serif" font-size="37" fill="#000" text-anchor="middle" font-weight="bold" textLength="134.5" lengthAdjust="spacingAndGlyphs"  xml:space="preserve">all_1_3_1</text>
<rect x="1545.5" y="1037" width="114" height="399" rx="12" fill="#cccc5e" filter="url(#colsh)"/>
<clipPath id="cc25"><rect x="1545.5" y="1037" width="114" height="399" rx="12"/></clipPath><g clip-path="url(#cc25)">
<text x="1602.5" y="1074" font-family="'Liberation Mono', monospace" font-size="38" fill="#6e6e6e" text-anchor="middle" font-weight="normal" textLength="104.0" lengthAdjust="spacingAndGlyphs" stroke="#6e6e6e" stroke-width="0.6"  xml:space="preserve">order</text>
<text x="1602.5" y="1116" font-family="'Liberation Mono', monospace" font-size="38" fill="#6e6e6e" text-anchor="middle" font-weight="normal" textLength="62.4" lengthAdjust="spacingAndGlyphs" stroke="#6e6e6e" stroke-width="0.6"  xml:space="preserve">_id</text>
<text x="1602.5" y="1187.5" font-family="'Liberation Mono', monospace" font-size="39" fill="#000" text-anchor="middle" font-weight="normal" textLength="83.2" lengthAdjust="spacingAndGlyphs" stroke="#000" stroke-width="0.7"  xml:space="preserve">1001</text>
<text x="1602.5" y="1243.0" font-family="'Liberation Mono', monospace" font-size="39" fill="#000" text-anchor="middle" font-weight="normal" textLength="83.2" lengthAdjust="spacingAndGlyphs" stroke="#000" stroke-width="0.7"  xml:space="preserve">1001</text>
<text x="1602.5" y="1298.5" font-family="'Liberation Mono', monospace" font-size="39" fill="#000" text-anchor="middle" font-weight="normal" textLength="83.2" lengthAdjust="spacingAndGlyphs" stroke="#000" stroke-width="0.7"  xml:space="preserve">1001</text>
<text x="1602.5" y="1354.0" font-family="'Liberation Mono', monospace" font-size="39" fill="#000" text-anchor="middle" font-weight="normal" textLength="83.2" lengthAdjust="spacingAndGlyphs" stroke="#000" stroke-width="0.7"  xml:space="preserve">1001</text>
<text x="1602.5" y="1409.5" font-family="'Liberation Mono', monospace" font-size="39" fill="#000" text-anchor="middle" font-weight="normal" textLength="83.2" lengthAdjust="spacingAndGlyphs" stroke="#000" stroke-width="0.7"  xml:space="preserve">1002</text>
</g>
<rect x="1677.5" y="1037" width="114" height="399" rx="12" fill="#cccc5e" filter="url(#colsh)"/>
<clipPath id="cc26"><rect x="1677.5" y="1037" width="114" height="399" rx="12"/></clipPath><g clip-path="url(#cc26)">
<text x="1734.5" y="1074" font-family="'Liberation Mono', monospace" font-size="38" fill="#6e6e6e" text-anchor="middle" font-weight="normal" textLength="83.2" lengthAdjust="spacingAndGlyphs" stroke="#6e6e6e" stroke-width="0.6"  xml:space="preserve">item</text>
<text x="1734.5" y="1116" font-family="'Liberation Mono', monospace" font-size="38" fill="#6e6e6e" text-anchor="middle" font-weight="normal" textLength="62.4" lengthAdjust="spacingAndGlyphs" stroke="#6e6e6e" stroke-width="0.6"  xml:space="preserve">_id</text>
<text x="1734.5" y="1187.5" font-family="'Liberation Mono', monospace" font-size="39" fill="#000" text-anchor="middle" font-weight="normal" textLength="62.4" lengthAdjust="spacingAndGlyphs" stroke="#000" stroke-width="0.7"  xml:space="preserve">kbd</text>
<text x="1734.5" y="1243.0" font-family="'Liberation Mono', monospace" font-size="39" fill="#000" text-anchor="middle" font-weight="normal" textLength="62.4" lengthAdjust="spacingAndGlyphs" stroke="#000" stroke-width="0.7"  xml:space="preserve">mon</text>
<text x="1734.5" y="1298.5" font-family="'Liberation Mono', monospace" font-size="39" fill="#000" text-anchor="middle" font-weight="normal" textLength="104.0" lengthAdjust="spacingAndGlyphs" stroke="#000" stroke-width="0.7"  xml:space="preserve">mouse</text>
<text x="1734.5" y="1354.0" font-family="'Liberation Mono', monospace" font-size="39" fill="#000" text-anchor="middle" font-weight="normal" textLength="62.4" lengthAdjust="spacingAndGlyphs" stroke="#000" stroke-width="0.7"  xml:space="preserve">ssd</text>
<text x="1734.5" y="1409.5" font-family="'Liberation Mono', monospace" font-size="39" fill="#000" text-anchor="middle" font-weight="normal" textLength="62.4" lengthAdjust="spacingAndGlyphs" stroke="#000" stroke-width="0.7"  xml:space="preserve">cam</text>
</g>
<rect x="1809.5" y="1037" width="114" height="399" rx="12" fill="#cccc5e" filter="url(#colsh)"/>
<clipPath id="cc27"><rect x="1809.5" y="1037" width="114" height="399" rx="12"/></clipPath><g clip-path="url(#cc27)">
<text x="1866.5" y="1074" font-family="'Liberation Mono', monospace" font-size="38" fill="#6e6e6e" text-anchor="middle" font-weight="normal" textLength="83.2" lengthAdjust="spacingAndGlyphs" stroke="#6e6e6e" stroke-width="0.6"  xml:space="preserve">quan</text>
<text x="1866.5" y="1116" font-family="'Liberation Mono', monospace" font-size="38" fill="#6e6e6e" text-anchor="middle" font-weight="normal" textLength="83.2" lengthAdjust="spacingAndGlyphs" stroke="#6e6e6e" stroke-width="0.6"  xml:space="preserve">tity</text>
<text x="1866.5" y="1187.5" font-family="'Liberation Mono', monospace" font-size="39" fill="#000" text-anchor="middle" font-weight="normal" textLength="41.6" lengthAdjust="spacingAndGlyphs" stroke="#000" stroke-width="0.7"  xml:space="preserve">42</text>
<text x="1866.5" y="1243.0" font-family="'Liberation Mono', monospace" font-size="39" fill="#000" text-anchor="middle" font-weight="normal" textLength="20.8" lengthAdjust="spacingAndGlyphs" stroke="#000" stroke-width="0.7"  xml:space="preserve">2</text>
<text x="1866.5" y="1298.5" font-family="'Liberation Mono', monospace" font-size="39" fill="#000" text-anchor="middle" font-weight="normal" textLength="20.8" lengthAdjust="spacingAndGlyphs" stroke="#000" stroke-width="0.7"  xml:space="preserve">6</text>
<text x="1866.5" y="1354.0" font-family="'Liberation Mono', monospace" font-size="39" fill="#000" text-anchor="middle" font-weight="normal" textLength="41.6" lengthAdjust="spacingAndGlyphs" stroke="#000" stroke-width="0.7"  xml:space="preserve">50</text>
<text x="1866.5" y="1409.5" font-family="'Liberation Mono', monospace" font-size="39" fill="#000" text-anchor="middle" font-weight="normal" textLength="20.8" lengthAdjust="spacingAndGlyphs" stroke="#000" stroke-width="0.7"  xml:space="preserve">1</text>
</g>
<rect x="1941.5" y="1037" width="114" height="399" rx="12" fill="#cccc5e" filter="url(#colsh)"/>
<clipPath id="cc28"><rect x="1941.5" y="1037" width="114" height="399" rx="12"/></clipPath><g clip-path="url(#cc28)">
<text x="1998.5" y="1095" font-family="'Liberation Mono', monospace" font-size="38" fill="#6e6e6e" text-anchor="middle" font-weight="normal" textLength="104.0" lengthAdjust="spacingAndGlyphs" stroke="#6e6e6e" stroke-width="0.6"  xml:space="preserve">price</text>
<text x="2054.0" y="1187.5" font-family="'Liberation Mono', monospace" font-size="39" fill="#000" text-anchor="end" font-weight="normal" textLength="104.0" lengthAdjust="spacingAndGlyphs" stroke="#000" stroke-width="0.7"  xml:space="preserve">45.00</text>
<text x="2054.0" y="1243.0" font-family="'Liberation Mono', monospace" font-size="36" fill="#000" text-anchor="end" font-weight="normal" textLength="112.8" lengthAdjust="spacingAndGlyphs" stroke="#000" stroke-width="0.7"  xml:space="preserve">250.00</text>
<text x="2054.0" y="1298.5" font-family="'Liberation Mono', monospace" font-size="39" fill="#000" text-anchor="end" font-weight="normal" textLength="104.0" lengthAdjust="spacingAndGlyphs" stroke="#000" stroke-width="0.7"  xml:space="preserve">25.00</text>
<text x="2054.0" y="1354.0" font-family="'Liberation Mono', monospace" font-size="39" fill="#000" text-anchor="end" font-weight="normal" textLength="104.0" lengthAdjust="spacingAndGlyphs" stroke="#000" stroke-width="0.7"  xml:space="preserve">65.00</text>
<text x="2054.0" y="1409.5" font-family="'Liberation Mono', monospace" font-size="39" fill="#000" text-anchor="end" font-weight="normal" textLength="104.0" lengthAdjust="spacingAndGlyphs" stroke="#000" stroke-width="0.7"  xml:space="preserve">85.00</text>
</g>
<rect x="2073.5" y="1037" width="114" height="399" rx="12" fill="#cccc5e" filter="url(#colsh)"/>
<clipPath id="cc29"><rect x="2073.5" y="1037" width="114" height="399" rx="12"/></clipPath><g clip-path="url(#cc29)">
<text x="2130.5" y="1074" font-family="'Liberation Mono', monospace" font-size="38" fill="#6e6e6e" text-anchor="middle" font-weight="normal" textLength="62.4" lengthAdjust="spacingAndGlyphs" stroke="#6e6e6e" stroke-width="0.6"  xml:space="preserve">dis</text>
<text x="2130.5" y="1116" font-family="'Liberation Mono', monospace" font-size="38" fill="#6e6e6e" text-anchor="middle" font-weight="normal" textLength="104.0" lengthAdjust="spacingAndGlyphs" stroke="#6e6e6e" stroke-width="0.6"  xml:space="preserve">count</text>
<text x="2130.5" y="1187.5" font-family="'Liberation Mono', monospace" font-size="39" fill="#000" text-anchor="middle" font-weight="normal" textLength="83.2" lengthAdjust="spacingAndGlyphs" stroke="#000" stroke-width="0.7"  xml:space="preserve">0.20</text>
<text x="2130.5" y="1243.0" font-family="'Liberation Mono', monospace" font-size="39" fill="#000" text-anchor="middle" font-weight="normal" textLength="83.2" lengthAdjust="spacingAndGlyphs" stroke="#000" stroke-width="0.7"  xml:space="preserve">0.00</text>
<text x="2130.5" y="1298.5" font-family="'Liberation Mono', monospace" font-size="39" fill="#000" text-anchor="middle" font-weight="normal" textLength="83.2" lengthAdjust="spacingAndGlyphs" stroke="#000" stroke-width="0.7"  xml:space="preserve">0.00</text>
<text x="2130.5" y="1354.0" font-family="'Liberation Mono', monospace" font-size="39" fill="#000" text-anchor="middle" font-weight="normal" textLength="83.2" lengthAdjust="spacingAndGlyphs" stroke="#000" stroke-width="0.7"  xml:space="preserve">0.20</text>
<text x="2130.5" y="1409.5" font-family="'Liberation Mono', monospace" font-size="39" fill="#000" text-anchor="middle" font-weight="normal" textLength="83.2" lengthAdjust="spacingAndGlyphs" stroke="#000" stroke-width="0.7"  xml:space="preserve">0.00</text>
</g>
<rect x="2205.5" y="1037" width="114" height="399" rx="12" fill="#dadada" filter="url(#colsh)"/>
<clipPath id="cc30"><rect x="2205.5" y="1037" width="114" height="399" rx="12"/></clipPath><g clip-path="url(#cc30)">
<text x="2262.5" y="1075.5" font-family="'Liberation Mono', monospace" font-size="30" fill="#6e6e6e" text-anchor="middle" font-weight="normal" textLength="87.0" lengthAdjust="spacingAndGlyphs" stroke="#6e6e6e" stroke-width="0.5"  xml:space="preserve">_part</text>
<text x="2262.5" y="1110" font-family="'Liberation Mono', monospace" font-size="30" fill="#6e6e6e" text-anchor="middle" font-weight="normal" textLength="121.8" lengthAdjust="spacingAndGlyphs" stroke="#6e6e6e" stroke-width="0.5"  xml:space="preserve">_offset</text>
<text x="2262.5" y="1187.5" font-family="'Liberation Mono', monospace" font-size="39" fill="#000" text-anchor="middle" font-weight="normal" textLength="20.8" lengthAdjust="spacingAndGlyphs" stroke="#000" stroke-width="0.7"  xml:space="preserve">0</text>
<text x="2262.5" y="1243.0" font-family="'Liberation Mono', monospace" font-size="39" fill="#000" text-anchor="middle" font-weight="normal" textLength="20.8" lengthAdjust="spacingAndGlyphs" stroke="#000" stroke-width="0.7"  xml:space="preserve">1</text>
<text x="2262.5" y="1298.5" font-family="'Liberation Mono', monospace" font-size="39" fill="#000" text-anchor="middle" font-weight="normal" textLength="20.8" lengthAdjust="spacingAndGlyphs" stroke="#000" stroke-width="0.7"  xml:space="preserve">2</text>
<text x="2262.5" y="1354.0" font-family="'Liberation Mono', monospace" font-size="39" fill="#000" text-anchor="middle" font-weight="normal" textLength="20.8" lengthAdjust="spacingAndGlyphs" stroke="#000" stroke-width="0.7"  xml:space="preserve">3</text>
<text x="2262.5" y="1409.5" font-family="'Liberation Mono', monospace" font-size="39" fill="#000" text-anchor="middle" font-weight="normal" textLength="20.8" lengthAdjust="spacingAndGlyphs" stroke="#000" stroke-width="0.7"  xml:space="preserve">4</text>
</g>
<rect x="2337.5" y="1037" width="114" height="399" rx="12" fill="#dadada" filter="url(#colsh)"/>
<clipPath id="cc31"><rect x="2337.5" y="1037" width="114" height="399" rx="12"/></clipPath><g clip-path="url(#cc31)">
<text x="2394.5" y="1075.5" font-family="'Liberation Mono', monospace" font-size="30" fill="#6e6e6e" text-anchor="middle" font-weight="normal" textLength="104.4" lengthAdjust="spacingAndGlyphs" stroke="#6e6e6e" stroke-width="0.5"  xml:space="preserve">_block</text>
<text x="2394.5" y="1110" font-family="'Liberation Mono', monospace" font-size="30" fill="#6e6e6e" text-anchor="middle" font-weight="normal" textLength="121.8" lengthAdjust="spacingAndGlyphs" stroke="#6e6e6e" stroke-width="0.5"  xml:space="preserve">_number</text>
<text x="2394.5" y="1187.5" font-family="'Liberation Mono', monospace" font-size="39" fill="#000" text-anchor="middle" font-weight="normal" textLength="20.8" lengthAdjust="spacingAndGlyphs" stroke="#000" stroke-width="0.7"  xml:space="preserve">1</text>
<text x="2394.5" y="1243.0" font-family="'Liberation Mono', monospace" font-size="39" fill="#000" text-anchor="middle" font-weight="normal" textLength="20.8" lengthAdjust="spacingAndGlyphs" stroke="#000" stroke-width="0.7"  xml:space="preserve">3</text>
<text x="2394.5" y="1298.5" font-family="'Liberation Mono', monospace" font-size="39" fill="#000" text-anchor="middle" font-weight="normal" textLength="20.8" lengthAdjust="spacingAndGlyphs" stroke="#000" stroke-width="0.7"  xml:space="preserve">1</text>
<text x="2394.5" y="1354.0" font-family="'Liberation Mono', monospace" font-size="39" fill="#000" text-anchor="middle" font-weight="normal" textLength="20.8" lengthAdjust="spacingAndGlyphs" stroke="#000" stroke-width="0.7"  xml:space="preserve">3</text>
<text x="2394.5" y="1409.5" font-family="'Liberation Mono', monospace" font-size="39" fill="#000" text-anchor="middle" font-weight="normal" textLength="20.8" lengthAdjust="spacingAndGlyphs" stroke="#000" stroke-width="0.7"  xml:space="preserve">2</text>
</g>
<rect x="2469.5" y="1037" width="114" height="399" rx="12" fill="#dadada" filter="url(#colsh)"/>
<clipPath id="cc32"><rect x="2469.5" y="1037" width="114" height="399" rx="12"/></clipPath><g clip-path="url(#cc32)">
<text x="2526.5" y="1075.5" font-family="'Liberation Mono', monospace" font-size="30" fill="#6e6e6e" text-anchor="middle" font-weight="normal" textLength="104.4" lengthAdjust="spacingAndGlyphs" stroke="#6e6e6e" stroke-width="0.5"  xml:space="preserve">_block</text>
<text x="2526.5" y="1110" font-family="'Liberation Mono', monospace" font-size="30" fill="#6e6e6e" text-anchor="middle" font-weight="normal" textLength="121.8" lengthAdjust="spacingAndGlyphs" stroke="#6e6e6e" stroke-width="0.5"  xml:space="preserve">_offset</text>
<text x="2526.5" y="1187.5" font-family="'Liberation Mono', monospace" font-size="39" fill="#000" text-anchor="middle" font-weight="normal" textLength="20.8" lengthAdjust="spacingAndGlyphs" stroke="#000" stroke-width="0.7"  xml:space="preserve">0</text>
<text x="2526.5" y="1243.0" font-family="'Liberation Mono', monospace" font-size="39" fill="#000" text-anchor="middle" font-weight="normal" textLength="20.8" lengthAdjust="spacingAndGlyphs" stroke="#000" stroke-width="0.7"  xml:space="preserve">0</text>
<text x="2526.5" y="1298.5" font-family="'Liberation Mono', monospace" font-size="39" fill="#000" text-anchor="middle" font-weight="normal" textLength="20.8" lengthAdjust="spacingAndGlyphs" stroke="#000" stroke-width="0.7"  xml:space="preserve">1</text>
<text x="2526.5" y="1354.0" font-family="'Liberation Mono', monospace" font-size="39" fill="#000" text-anchor="middle" font-weight="normal" textLength="20.8" lengthAdjust="spacingAndGlyphs" stroke="#000" stroke-width="0.7"  xml:space="preserve">1</text>
<text x="2526.5" y="1409.5" font-family="'Liberation Mono', monospace" font-size="39" fill="#000" text-anchor="middle" font-weight="normal" textLength="20.8" lengthAdjust="spacingAndGlyphs" stroke="#000" stroke-width="0.7"  xml:space="preserve">0</text>
</g>
<circle cx="93.25" cy="295.5" r="39" fill="none" stroke="#a8a8a8" stroke-width="5"/>
<path d="M82.00,279.70 L91.00,273.00 L98.00,273.00 L98.00,318.00 L92.00,318.00 L92.00,279.80 L82.00,285.90 Z" fill="#a8a8a8"/>
<circle cx="93.25" cy="785" r="39" fill="none" stroke="#a8a8a8" stroke-width="5"/>
<text x="93.25" y="808" font-family="'Liberation Sans', sans-serif" font-size="64" fill="#a8a8a8" text-anchor="middle" font-weight="normal" textLength="33.0" lengthAdjust="spacingAndGlyphs"  xml:space="preserve">2</text>
<circle cx="93.25" cy="1276" r="39" fill="none" stroke="#a8a8a8" stroke-width="5"/>
<text x="93.25" y="1299" font-family="'Liberation Sans', sans-serif" font-size="64" fill="#a8a8a8" text-anchor="middle" font-weight="normal" textLength="33.0" lengthAdjust="spacingAndGlyphs"  xml:space="preserve">3</text>
<circle cx="228" cy="1995" r="39" fill="none" stroke="#a8a8a8" stroke-width="5"/>
<text x="228" y="2018" font-family="'Liberation Sans', sans-serif" font-size="64" fill="#a8a8a8" text-anchor="middle" font-weight="normal" textLength="33.0" lengthAdjust="spacingAndGlyphs"  xml:space="preserve">4</text>
<circle cx="1741.7" cy="857.5" r="39" fill="none" stroke="#a8a8a8" stroke-width="5"/>
<text x="1741.7" y="880.5" font-family="'Liberation Sans', sans-serif" font-size="64" fill="#a8a8a8" text-anchor="middle" font-weight="normal" textLength="33.0" lengthAdjust="spacingAndGlyphs"  xml:space="preserve">5</text>
<text x="333" y="1076" font-family="'Liberation Sans', sans-serif" font-size="63" fill="#a8a8a8" text-anchor="start" font-weight="normal" textLength="310.0" lengthAdjust="spacingAndGlyphs"  xml:space="preserve">Initial order</text>
<circle cx="702" cy="1054" r="39" fill="none" stroke="#a8a8a8" stroke-width="5"/>
<path d="M690.75,1038.20 L699.75,1031.50 L706.75,1031.50 L706.75,1076.50 L700.75,1076.50 L700.75,1038.30 L690.75,1044.40 Z" fill="#a8a8a8"/>
<text x="762" y="1076" font-family="'Liberation Sans', sans-serif" font-size="63" fill="#a8a8a8" text-anchor="start" font-weight="normal" textLength="324.0" lengthAdjust="spacingAndGlyphs"  xml:space="preserve">is extended</text>
<text x="2064" y="855" font-family="'Liberation Sans', sans-serif" font-size="63" fill="#a8a8a8" text-anchor="middle" font-weight="normal" textLength="483.0" lengthAdjust="spacingAndGlyphs"  xml:space="preserve">Merged data part</text>
<text x="2064.8" y="920" font-family="'Liberation Sans', sans-serif" font-size="63" fill="#a8a8a8" text-anchor="middle" font-weight="normal" textLength="509.0" lengthAdjust="spacingAndGlyphs"  xml:space="preserve">with applied patch</text>
<rect x="2259.5" y="1452" width="5" height="33" fill="#a8a8a8"/>
<path d="M2262,1438.5 L2270,1454 L2254,1454 Z" fill="#a8a8a8"/>
<rect x="2391.0" y="1452" width="5" height="33" fill="#a8a8a8"/>
<path d="M2393.5,1438.5 L2401.5,1454 L2385.5,1454 Z" fill="#a8a8a8"/>
<rect x="2524.0" y="1452" width="5" height="33" fill="#a8a8a8"/>
<path d="M2526.5,1438.5 L2534.5,1454 L2518.5,1454 Z" fill="#a8a8a8"/>
<text x="2262" y="1526.3" font-family="'Liberation Sans', sans-serif" font-size="37" fill="#a8a8a8" text-anchor="middle" font-weight="normal" textLength="67.0" lengthAdjust="spacingAndGlyphs" stroke="#a8a8a8" stroke-width="1"  xml:space="preserve">new</text>
<text x="2262" y="1563.4" font-family="'Liberation Sans', sans-serif" font-size="37" fill="#a8a8a8" text-anchor="middle" font-weight="normal" textLength="106.0" lengthAdjust="spacingAndGlyphs" stroke="#a8a8a8" stroke-width="1"  xml:space="preserve">values</text>
<text x="2393.5" y="1526.3" font-family="'Liberation Sans', sans-serif" font-size="37" fill="#a8a8a8" text-anchor="middle" font-weight="normal" textLength="119.0" lengthAdjust="spacingAndGlyphs" stroke="#a8a8a8" stroke-width="1"  xml:space="preserve">original</text>
<text x="2393.5" y="1563.4" font-family="'Liberation Sans', sans-serif" font-size="37" fill="#a8a8a8" text-anchor="middle" font-weight="normal" textLength="106.0" lengthAdjust="spacingAndGlyphs" stroke="#a8a8a8" stroke-width="1"  xml:space="preserve">values</text>
<text x="2526.5" y="1526.3" font-family="'Liberation Sans', sans-serif" font-size="37" fill="#a8a8a8" text-anchor="middle" font-weight="normal" textLength="119.0" lengthAdjust="spacingAndGlyphs" stroke="#a8a8a8" stroke-width="1"  xml:space="preserve">original</text>
<text x="2526.5" y="1563.4" font-family="'Liberation Sans', sans-serif" font-size="37" fill="#a8a8a8" text-anchor="middle" font-weight="normal" textLength="106.0" lengthAdjust="spacingAndGlyphs" stroke="#a8a8a8" stroke-width="1"  xml:space="preserve">values</text>
<g transform="translate(2091,1175) rotate(-40) scale(0.26)">
<path d="M-84,-25 Q0,-39 84,-25 Q114,-21 114,4 L114,10 Q114,36 86,36 Q0,22 -86,36 Q-114,36 -114,10 L-114,4 Q-114,-21 -84,-25 Z" fill="#000" opacity="0.45" transform="translate(3,8)" filter="url(#bl6)"/>
<path d="M-84,-25 Q0,-39 84,-25 Q114,-21 114,4 L114,10 Q114,36 86,36 Q0,22 -86,36 Q-114,36 -114,10 L-114,4 Q-114,-21 -84,-25 Z" fill="url(#bandg)"/>
<path d="M-84,-25 Q0,-39 84,-25 Q114,-21 114,4 L114,10 Q114,36 86,36 Q0,22 -86,36 Q-114,36 -114,10 L-114,4 Q-114,-21 -84,-25 Z" fill="url(#dots)" transform="scale(0.96)"/>
<path d="M-40,-26 L44,-26 L44,20 Q2,17 -40,22 Z" fill="#000" opacity="0.25" transform="translate(1,4)" filter="url(#bl2)"/>
<path d="M-40,-28.5 L44,-28.5 L44,15 Q44,21 37,21 Q2,18 -33,22 Q-40,22 -40,16 Z" fill="url(#padg)"/>
<path d="M-40,-28.5 L44,-28.5 L44,15 Q44,21 37,21 Q2,18 -33,22 Q-40,22 -40,16 Z" fill="url(#dots)" opacity="0.9"/>
</g>
<text x="2130.5" y="1186.7" font-family="'Liberation Mono', monospace" font-size="39" fill="#000" text-anchor="middle" font-weight="normal" textLength="83.2" lengthAdjust="spacingAndGlyphs" stroke="#000" stroke-width="0.7"  xml:space="preserve">0.20</text>
<g transform="translate(2091,1341) rotate(-40) scale(0.26)">
<path d="M-84,-25 Q0,-39 84,-25 Q114,-21 114,4 L114,10 Q114,36 86,36 Q0,22 -86,36 Q-114,36 -114,10 L-114,4 Q-114,-21 -84,-25 Z" fill="#000" opacity="0.45" transform="translate(3,8)" filter="url(#bl6)"/>
<path d="M-84,-25 Q0,-39 84,-25 Q114,-21 114,4 L114,10 Q114,36 86,36 Q0,22 -86,36 Q-114,36 -114,10 L-114,4 Q-114,-21 -84,-25 Z" fill="url(#bandg)"/>
<path d="M-84,-25 Q0,-39 84,-25 Q114,-21 114,4 L114,10 Q114,36 86,36 Q0,22 -86,36 Q-114,36 -114,10 L-114,4 Q-114,-21 -84,-25 Z" fill="url(#dots)" transform="scale(0.96)"/>
<path d="M-40,-26 L44,-26 L44,20 Q2,17 -40,22 Z" fill="#000" opacity="0.25" transform="translate(1,4)" filter="url(#bl2)"/>
<path d="M-40,-28.5 L44,-28.5 L44,15 Q44,21 37,21 Q2,18 -33,22 Q-40,22 -40,16 Z" fill="url(#padg)"/>
<path d="M-40,-28.5 L44,-28.5 L44,15 Q44,21 37,21 Q2,18 -33,22 Q-40,22 -40,16 Z" fill="url(#dots)" opacity="0.9"/>
</g>
<text x="2130.5" y="1352.7" font-family="'Liberation Mono', monospace" font-size="39" fill="#000" text-anchor="middle" font-weight="normal" textLength="83.2" lengthAdjust="spacingAndGlyphs" stroke="#000" stroke-width="0.7"  xml:space="preserve">0.20</text>
<rect x="1315" y="437" width="94" height="1392" rx="26" fill="#000" opacity="0.8" filter="url(#barsh)"/>
<rect x="1319" y="439" width="85" height="1384" rx="22" fill="#0a0a0a"/>
<rect x="1328.5" y="429.5" width="65" height="1379" rx="16" fill="#000" stroke="#b4b4b4" stroke-width="2"/>
<line x1="1286.4" y1="401.8" x2="1498.5" y2="865.8" stroke="#a8a8a8" stroke-width="8"/>
<path d="M1513.0,897.6 L1479.9,870.9 L1514.5,855.1 Z" fill="#a8a8a8"/>
<line x1="1286.4" y1="930" x2="1454.0" y2="995.6" stroke="#a8a8a8" stroke-width="8"/>
<path d="M1486.6,1008.4 L1444.3,1012.2 L1458.1,976.9 Z" fill="#a8a8a8"/>
<line x1="1289.6" y1="1384" x2="1456.0" y2="1318.4" stroke="#a8a8a8" stroke-width="8"/>
<path d="M1488.6,1305.6 L1460.2,1337.2 L1446.3,1301.9 Z" fill="#a8a8a8"/>
<line x1="1159.8" y1="1973.2" x2="1493.1" y2="1501.1" stroke="#a8a8a8" stroke-width="8"/>
<path d="M1513.3,1472.5 L1506.9,1514.5 L1475.9,1492.6 Z" fill="#a8a8a8"/>
<rect x="1329.5" y="430.5" width="63" height="1377" rx="15" fill="#000" fill-opacity="0.45"/>
<text x="0" y="0" transform="translate(1374,1166.7) rotate(-90)" font-family="'Liberation Sans', sans-serif" font-size="36" fill="#b4b4b4" text-anchor="middle" textLength="105" lengthAdjust="spacingAndGlyphs">Merge</text>
<text x="709" y="1689" font-family="'Liberation Sans', sans-serif" font-size="63" fill="#a8a8a8" text-anchor="middle" font-weight="normal" textLength="286.0" lengthAdjust="spacingAndGlyphs"  xml:space="preserve">Patch part</text>
<g transform="translate(339.5,1754) rotate(-45.5)"><path d="M-84,-25 Q0,-39 84,-25 Q114,-21 114,4 L114,10 Q114,36 86,36 Q0,22 -86,36 Q-114,36 -114,10 L-114,4 Q-114,-21 -84,-25 Z" fill="#000" stroke="#000" stroke-width="54" stroke-linejoin="round" filter="url(#bl6)"/></g>
<rect x="297" y="1719" width="825" height="570" rx="11" fill="#ffff77"/>
<text x="709.6" y="1773" font-family="'Liberation Sans', sans-serif" font-size="37" fill="#000" text-anchor="middle" font-weight="bold" textLength="251.0" lengthAdjust="spacingAndGlyphs"  xml:space="preserve">patch-all_1_1_0</text>
<rect x="323.5" y="1803" width="114" height="229" rx="12" fill="#fdd023" filter="url(#colsh)"/>
<text x="380.5" y="1862" font-family="'Liberation Mono', monospace" font-size="38" fill="#6e6e6e" text-anchor="middle" font-weight="normal" textLength="104.0" lengthAdjust="spacingAndGlyphs" stroke="#6e6e6e" stroke-width="0.6"  xml:space="preserve">_part</text>
<text x="381.5" y="1954.5" font-family="'Liberation Mono', monospace" font-size="22" fill="#000" text-anchor="middle" font-weight="bold" textLength="103.0" lengthAdjust="spacingAndGlyphs"  xml:space="preserve">all_1_1_0</text>
<text x="381.5" y="2009" font-family="'Liberation Mono', monospace" font-size="22" fill="#000" text-anchor="middle" font-weight="bold" textLength="103.0" lengthAdjust="spacingAndGlyphs"  xml:space="preserve">all_3_3_0</text>
<rect x="455.5" y="1803" width="114" height="229" rx="12" fill="#fdd023" filter="url(#colsh)"/>
<clipPath id="cc33"><rect x="455.5" y="1803" width="114" height="229" rx="12"/></clipPath><g clip-path="url(#cc33)">
<text x="512.5" y="1841.5" font-family="'Liberation Mono', monospace" font-size="30" fill="#6e6e6e" text-anchor="middle" font-weight="normal" textLength="87.0" lengthAdjust="spacingAndGlyphs" stroke="#6e6e6e" stroke-width="0.5"  xml:space="preserve">_part</text>
<text x="512.5" y="1876" font-family="'Liberation Mono', monospace" font-size="30" fill="#6e6e6e" text-anchor="middle" font-weight="normal" textLength="121.8" lengthAdjust="spacingAndGlyphs" stroke="#6e6e6e" stroke-width="0.5"  xml:space="preserve">_offset</text>
<text x="512.5" y="1953.5" font-family="'Liberation Mono', monospace" font-size="39" fill="#000" text-anchor="middle" font-weight="normal" textLength="20.8" lengthAdjust="spacingAndGlyphs" stroke="#000" stroke-width="0.7"  xml:space="preserve">0</text>
<text x="512.5" y="2009.0" font-family="'Liberation Mono', monospace" font-size="39" fill="#000" text-anchor="middle" font-weight="normal" textLength="20.8" lengthAdjust="spacingAndGlyphs" stroke="#000" stroke-width="0.7"  xml:space="preserve">1</text>
</g>
<rect x="587.5" y="1803" width="114" height="229" rx="12" fill="#dadada" filter="url(#colsh)"/>
<clipPath id="cc34"><rect x="587.5" y="1803" width="114" height="229" rx="12"/></clipPath><g clip-path="url(#cc34)">
<text x="644.5" y="1841.5" font-family="'Liberation Mono', monospace" font-size="30" fill="#6e6e6e" text-anchor="middle" font-weight="normal" textLength="104.4" lengthAdjust="spacingAndGlyphs" stroke="#6e6e6e" stroke-width="0.5"  xml:space="preserve">_block</text>
<text x="644.5" y="1876" font-family="'Liberation Mono', monospace" font-size="30" fill="#6e6e6e" text-anchor="middle" font-weight="normal" textLength="121.8" lengthAdjust="spacingAndGlyphs" stroke="#6e6e6e" stroke-width="0.5"  xml:space="preserve">_number</text>
<text x="644.5" y="1953.5" font-family="'Liberation Mono', monospace" font-size="39" fill="#000" text-anchor="middle" font-weight="normal" textLength="20.8" lengthAdjust="spacingAndGlyphs" stroke="#000" stroke-width="0.7"  xml:space="preserve">1</text>
<text x="644.5" y="2009.0" font-family="'Liberation Mono', monospace" font-size="39" fill="#000" text-anchor="middle" font-weight="normal" textLength="20.8" lengthAdjust="spacingAndGlyphs" stroke="#000" stroke-width="0.7"  xml:space="preserve">3</text>
</g>
<rect x="719.5" y="1803" width="114" height="229" rx="12" fill="#dadada" filter="url(#colsh)"/>
<clipPath id="cc35"><rect x="719.5" y="1803" width="114" height="229" rx="12"/></clipPath><g clip-path="url(#cc35)">
<text x="776.5" y="1841.5" font-family="'Liberation Mono', monospace" font-size="30" fill="#6e6e6e" text-anchor="middle" font-weight="normal" textLength="104.4" lengthAdjust="spacingAndGlyphs" stroke="#6e6e6e" stroke-width="0.5"  xml:space="preserve">_block</text>
<text x="776.5" y="1876" font-family="'Liberation Mono', monospace" font-size="30" fill="#6e6e6e" text-anchor="middle" font-weight="normal" textLength="121.8" lengthAdjust="spacingAndGlyphs" stroke="#6e6e6e" stroke-width="0.5"  xml:space="preserve">_offset</text>
<text x="776.5" y="1953.5" font-family="'Liberation Mono', monospace" font-size="39" fill="#000" text-anchor="middle" font-weight="normal" textLength="20.8" lengthAdjust="spacingAndGlyphs" stroke="#000" stroke-width="0.7"  xml:space="preserve">0</text>
<text x="776.5" y="2009.0" font-family="'Liberation Mono', monospace" font-size="39" fill="#000" text-anchor="middle" font-weight="normal" textLength="20.8" lengthAdjust="spacingAndGlyphs" stroke="#000" stroke-width="0.7"  xml:space="preserve">1</text>
</g>
<rect x="851.5" y="1803" width="114" height="229" rx="12" fill="#fdd023" filter="url(#colsh)"/>
<clipPath id="cc36"><rect x="851.5" y="1803" width="114" height="229" rx="12"/></clipPath><g clip-path="url(#cc36)">
<text x="908.5" y="1844" font-family="'Liberation Mono', monospace" font-size="25" fill="#6e6e6e" text-anchor="middle" font-weight="normal" textLength="74.0" lengthAdjust="spacingAndGlyphs" stroke="#6e6e6e" stroke-width="0.4"  xml:space="preserve">_data</text>
<text x="908.5" y="1875.5" font-family="'Liberation Mono', monospace" font-size="25" fill="#6e6e6e" text-anchor="middle" font-weight="normal" textLength="118.4" lengthAdjust="spacingAndGlyphs" stroke="#6e6e6e" stroke-width="0.4"  xml:space="preserve">_version</text>
<text x="908.5" y="1953.5" font-family="'Liberation Mono', monospace" font-size="39" fill="#000" text-anchor="middle" font-weight="normal" textLength="20.8" lengthAdjust="spacingAndGlyphs" stroke="#000" stroke-width="0.7"  xml:space="preserve">4</text>
<text x="908.5" y="2009.0" font-family="'Liberation Mono', monospace" font-size="39" fill="#000" text-anchor="middle" font-weight="normal" textLength="20.8" lengthAdjust="spacingAndGlyphs" stroke="#000" stroke-width="0.7"  xml:space="preserve">4</text>
</g>
<rect x="983.5" y="1803" width="114" height="229" rx="12" fill="#cccc5e" filter="url(#colsh)"/>
<clipPath id="cc37"><rect x="983.5" y="1803" width="114" height="229" rx="12"/></clipPath><g clip-path="url(#cc37)">
<text x="1040.5" y="1840" font-family="'Liberation Mono', monospace" font-size="38" fill="#6e6e6e" text-anchor="middle" font-weight="normal" textLength="62.4" lengthAdjust="spacingAndGlyphs" stroke="#6e6e6e" stroke-width="0.6"  xml:space="preserve">dis</text>
<text x="1040.5" y="1882" font-family="'Liberation Mono', monospace" font-size="38" fill="#6e6e6e" text-anchor="middle" font-weight="normal" textLength="104.0" lengthAdjust="spacingAndGlyphs" stroke="#6e6e6e" stroke-width="0.6"  xml:space="preserve">count</text>
<text x="1040.5" y="1953.5" font-family="'Liberation Mono', monospace" font-size="39" fill="#000" text-anchor="middle" font-weight="normal" textLength="83.2" lengthAdjust="spacingAndGlyphs" stroke="#000" stroke-width="0.7"  xml:space="preserve">0.20</text>
<text x="1040.5" y="2009.0" font-family="'Liberation Mono', monospace" font-size="39" fill="#000" text-anchor="middle" font-weight="normal" textLength="83.2" lengthAdjust="spacingAndGlyphs" stroke="#000" stroke-width="0.7"  xml:space="preserve">0.20</text>
</g>
<g clip-path="url(#patchclip)"><g transform="translate(334.5,1751) rotate(-45.5)"><path d="M-84,-25 Q0,-39 84,-25 Q114,-21 114,4 L114,10 Q114,36 86,36 Q0,22 -86,36 Q-114,36 -114,10 L-114,4 Q-114,-21 -84,-25 Z" fill="#000" stroke="#000" stroke-width="8" opacity="0.5" filter="url(#bl14)"/></g></g>
<rect x="324" y="2066" width="321" height="185" rx="6" fill="#0058f5" filter="url(#colsh)"/>
<text x="484.5" y="2106" font-family="'Liberation Sans', sans-serif" font-size="36" fill="#eef2fb" text-anchor="middle" font-weight="normal" textLength="290.0" lengthAdjust="spacingAndGlyphs" stroke="#eef2fb" stroke-width="0.3"  xml:space="preserve">Source part index</text>
<text x="551" y="2141" font-family="'Liberation Sans', sans-serif" font-size="25" fill="#eef2fb" text-anchor="middle" font-weight="normal" textLength="126.0" lengthAdjust="spacingAndGlyphs" stroke="#eef2fb" stroke-width="0.5"  xml:space="preserve">data version</text>
<text x="407" y="2164.4" font-family="'Liberation Mono', monospace" font-size="25" fill="#eef2fb" text-anchor="middle" font-weight="normal" textLength="66.0" lengthAdjust="spacingAndGlyphs" stroke="#eef2fb" stroke-width="0.4"  xml:space="preserve">_part</text>
<text x="551" y="2164.4" font-family="'Liberation Mono', monospace" font-size="25" fill="#eef2fb" text-anchor="middle" font-weight="normal" textLength="87.0" lengthAdjust="spacingAndGlyphs" stroke="#eef2fb" stroke-width="0.4"  xml:space="preserve">min max</text>
<text x="406" y="2196.6" font-family="'Liberation Mono', monospace" font-size="23" fill="#fff" text-anchor="middle" font-weight="bold" textLength="103.0" lengthAdjust="spacingAndGlyphs"  xml:space="preserve">all_1_1_0</text>
<path d="M477,2189.1 H498 M491.72,2180.8199999999997 L500,2189.1 L491.72,2197.38" fill="none" stroke="#fff" stroke-width="3.2" stroke-linecap="butt" stroke-linejoin="miter"/>
<text x="526" y="2196.6" font-family="'Liberation Mono', monospace" font-size="27" fill="#fff" text-anchor="middle" font-weight="bold" textLength="12.0" lengthAdjust="spacingAndGlyphs"  xml:space="preserve">4</text>
<text x="574" y="2196.6" font-family="'Liberation Mono', monospace" font-size="27" fill="#fff" text-anchor="middle" font-weight="bold" textLength="12.0" lengthAdjust="spacingAndGlyphs"  xml:space="preserve">4</text>
<text x="406" y="2238.7" font-family="'Liberation Mono', monospace" font-size="23" fill="#fff" text-anchor="middle" font-weight="bold" textLength="103.0" lengthAdjust="spacingAndGlyphs"  xml:space="preserve">all_3_3_0</text>
<path d="M477,2231.2 H498 M491.72,2222.9199999999996 L500,2231.2 L491.72,2239.48" fill="none" stroke="#fff" stroke-width="3.2" stroke-linecap="butt" stroke-linejoin="miter"/>
<text x="526" y="2238.7" font-family="'Liberation Mono', monospace" font-size="27" fill="#fff" text-anchor="middle" font-weight="bold" textLength="12.0" lengthAdjust="spacingAndGlyphs"  xml:space="preserve">4</text>
<text x="574" y="2238.7" font-family="'Liberation Mono', monospace" font-size="27" fill="#fff" text-anchor="middle" font-weight="bold" textLength="12.0" lengthAdjust="spacingAndGlyphs"  xml:space="preserve">4</text>
<rect x="659" y="2066" width="437" height="185" rx="6" fill="#dadada" filter="url(#colsh)"/>
<text x="877.5" y="2106" font-family="'Liberation Sans', sans-serif" font-size="36" fill="#6e6e6e" text-anchor="middle" font-weight="normal" textLength="229.0" lengthAdjust="spacingAndGlyphs" stroke="#6e6e6e" stroke-width="0.3"  xml:space="preserve">Reverse index</text>
<text x="737" y="2167" font-family="'Liberation Sans', sans-serif" font-size="25" fill="#6e6e6e" text-anchor="middle" font-weight="normal" textLength="40.0" lengthAdjust="spacingAndGlyphs" stroke="#6e6e6e" stroke-width="0.4"  xml:space="preserve">max</text>
<text x="737" y="2189" font-family="'Liberation Sans', sans-serif" font-size="25" fill="#6e6e6e" text-anchor="middle" font-weight="normal" textLength="126.0" lengthAdjust="spacingAndGlyphs" stroke="#6e6e6e" stroke-width="0.4"  xml:space="preserve">data version</text>
<text x="952" y="2189" font-family="'Liberation Sans', sans-serif" font-size="25" fill="#6e6e6e" text-anchor="middle" font-weight="normal" textLength="122.0" lengthAdjust="spacingAndGlyphs" stroke="#6e6e6e" stroke-width="0.4"  xml:space="preserve">set of parts</text>
<text x="736" y="2216.5" font-family="'Liberation Mono', monospace" font-size="26" fill="#000" text-anchor="middle" font-weight="bold" textLength="12.0" lengthAdjust="spacingAndGlyphs"  xml:space="preserve">4</text>
<path d="M770,2209.0 H792 M785.36,2200.36 L794,2209.0 L785.36,2217.64" fill="none" stroke="#000" stroke-width="3.2" stroke-linecap="butt" stroke-linejoin="miter"/>
<text x="951.5" y="2216.5" font-family="'Liberation Mono', monospace" font-size="22" fill="#000" text-anchor="middle" font-weight="bold" textLength="259.0" lengthAdjust="spacingAndGlyphs"  xml:space="preserve">(all_1_1_0, all_3_3_0)</text>
<text x="405" y="2333.8" font-family="'Liberation Sans', sans-serif" font-size="36" fill="#a8a8a8" text-anchor="start" font-weight="normal" textLength="159.0" lengthAdjust="spacingAndGlyphs" stroke="#a8a8a8" stroke-width="0.9"  xml:space="preserve">sorted by</text>
<text x="571" y="2333.8" font-family="'Liberation Mono', monospace" font-size="36" fill="#a8a8a8" text-anchor="start" font-weight="normal" textLength="444.0" lengthAdjust="spacingAndGlyphs" stroke="#a8a8a8" stroke-width="0.9"  xml:space="preserve">(_part, _part_offset)</text>
<g transform="translate(322.5,1739) rotate(-45.5) scale(1)">
<path d="M-84,-25 Q0,-39 84,-25 Q114,-21 114,4 L114,10 Q114,36 86,36 Q0,22 -86,36 Q-114,36 -114,10 L-114,4 Q-114,-21 -84,-25 Z" fill="url(#bandg)"/>
<path d="M-84,-25 Q0,-39 84,-25 Q114,-21 114,4 L114,10 Q114,36 86,36 Q0,22 -86,36 Q-114,36 -114,10 L-114,4 Q-114,-21 -84,-25 Z" fill="url(#dots)" transform="scale(0.96)"/>
<path d="M-40,-26 L44,-26 L44,20 Q2,17 -40,22 Z" fill="#000" opacity="0.25" transform="translate(1,4)" filter="url(#bl2)"/>
<path d="M-40,-28.5 L44,-28.5 L44,15 Q44,21 37,21 Q2,18 -33,22 Q-40,22 -40,16 Z" fill="url(#padg)"/>
<path d="M-40,-28.5 L44,-28.5 L44,15 Q44,21 37,21 Q2,18 -33,22 Q-40,22 -40,16 Z" fill="url(#dots)" opacity="0.9"/>
</g>
<rect x="2077" y="66" width="536" height="452" rx="18" fill="#000" filter="url(#bl3)"/>
<g clip-path="url(#legclip)"><rect x="2082" y="55" width="517" height="445" fill="#a2a2a2"/><rect x="2089" y="64" width="560" height="520" rx="10" fill="#7c7c7c" filter="url(#bl3)"/></g>
<text x="2108" y="121" font-family="'Liberation Sans', sans-serif" font-size="35" fill="#a8a8a8" text-anchor="start" font-weight="normal" textLength="271.0" lengthAdjust="spacingAndGlyphs" stroke="#a8a8a8" stroke-width="0.8"  xml:space="preserve">System columns</text>
<text x="2108" y="336" font-family="'Liberation Sans', sans-serif" font-size="35" fill="#a8a8a8" text-anchor="start" font-weight="normal" textLength="127.0" lengthAdjust="spacingAndGlyphs" stroke="#a8a8a8" stroke-width="0.8"  xml:space="preserve">Indexes</text>
<rect x="2104.5" y="150.0" width="51" height="49.5" rx="9" fill="#000" opacity="0.33" transform="translate(0.8,1.2)" filter="url(#bl2)"/>
<rect x="2107" y="152.5" width="44" height="42.5" rx="6" fill="#fdd023"/>
<text x="2165.5" y="186.0" font-family="'Liberation Sans', sans-serif" font-size="36" fill="#a8a8a8" text-anchor="start" font-weight="normal" textLength="345.0" lengthAdjust="spacingAndGlyphs" stroke="#a8a8a8" stroke-width="0.8"  xml:space="preserve">Used in this example</text>
<rect x="2104.5" y="208.0" width="51" height="49.5" rx="9" fill="#000" opacity="0.33" transform="translate(0.8,1.2)" filter="url(#bl2)"/>
<rect x="2107" y="210.5" width="44" height="42.5" rx="6" fill="#dadada"/>
<text x="2165.5" y="244.0" font-family="'Liberation Sans', sans-serif" font-size="36" fill="#a8a8a8" text-anchor="start" font-weight="normal" textLength="408.0" lengthAdjust="spacingAndGlyphs" stroke="#a8a8a8" stroke-width="0.8"  xml:space="preserve">Not used in this example</text>
<rect x="2104.5" y="365.0" width="51" height="49.5" rx="9" fill="#000" opacity="0.33" transform="translate(0.8,1.2)" filter="url(#bl2)"/>
<rect x="2107" y="367.5" width="44" height="42.5" rx="6" fill="#0058f5"/>
<text x="2165.5" y="401.0" font-family="'Liberation Sans', sans-serif" font-size="36" fill="#a8a8a8" text-anchor="start" font-weight="normal" textLength="345.0" lengthAdjust="spacingAndGlyphs" stroke="#a8a8a8" stroke-width="0.8"  xml:space="preserve">Used in this example</text>
<rect x="2104.5" y="423.0" width="51" height="49.5" rx="9" fill="#000" opacity="0.33" transform="translate(0.8,1.2)" filter="url(#bl2)"/>
<rect x="2107" y="425.5" width="44" height="42.5" rx="6" fill="#dadada"/>
<text x="2165.5" y="459.0" font-family="'Liberation Sans', sans-serif" font-size="36" fill="#a8a8a8" text-anchor="start" font-weight="normal" textLength="408.0" lengthAdjust="spacingAndGlyphs" stroke="#a8a8a8" stroke-width="0.8"  xml:space="preserve">Not used in this example</text>
</svg></body></html>
